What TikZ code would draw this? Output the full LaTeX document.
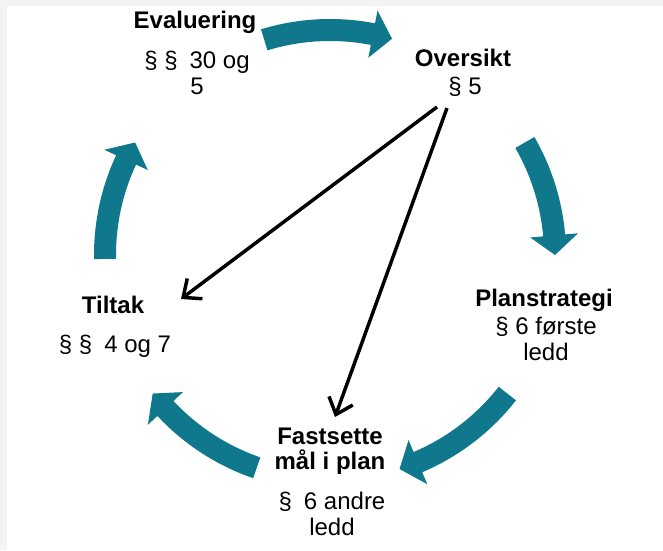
\documentclass[tikz,border=0pt]{standalone}
\usepackage{fontspec}
\setmainfont{Liberation Sans}
\usetikzlibrary{arrows.meta}
\usepackage{xcolor}
\definecolor{cycleteal}{RGB}{16,120,140}
\definecolor{framegray}{RGB}{243,243,243}

\begin{document}
\begin{tikzpicture}[
  x=0.75pt, y=-0.75pt,
  font=\fontsize{18}{19.5}\selectfont,
  steptitle/.style={font=\fontsize{18}{19}\selectfont\bfseries, align=center, inner sep=0pt},
  stepref/.style={align=center, inner sep=0pt},
  linkarrow/.style={-{Straight Barb[length=11pt, width=19pt]}, line width=2.6pt},
  cyclearrow/.style={fill=cycleteal}
]
% frame
\fill[framegray] (0,0) rectangle (663,550);
\fill[white] (7,6) rectangle (663,550);

% cycle arrows (tail angle / tip angle)
\foreach \a/\t in {253/286, 330/360, 38/72, 109/142, 179/210} {
  \pgfmathsetmacro\b{\t-5}
  \fill[cyclearrow] ([shift={(330,255)}]\a:236) arc[start angle=\a, end angle=\b, radius=236]
    -- ([shift={(330,255)}]\b:249) -- ([shift={(330,255)}]\t:225)
    -- ([shift={(330,255)}]\b:201) -- ([shift={(330,255)}]\b:214)
    arc[start angle=\b, end angle=\a, radius=214] -- cycle;
}

% steps
\node[steptitle] (eval) at (195,22) {Evaluering};
\node[stepref] (evalref) at (197,73) {§ §\enspace 30 og\\5};
\node[steptitle] (ovs) at (463,58) {Oversikt};
\node[stepref] (ovsref) at (465,87) {§ 5};
\node[steptitle] (plan) at (544,300) {Planstrategi};
\node[stepref] (planref) at (546,339) {§ 6 første\\ledd};
\node[steptitle] (fast) at (330,451) {Fastsette\\mål i plan};
\node[stepref] (fastref) at (332,514) {§\enspace 6 andre\\ledd};
\node[steptitle] (tiltak) at (113,305) {Tiltak};
\node[stepref] (tiltakref) at (115,346) {§ §\enspace 4 og 7};

% links from Oversikt
\draw[linkarrow] ([shift={(-28,20)}]ovsref.center) -- ([shift={(68,-6)}]tiltak.center);
\draw[linkarrow] ([shift={(-18,21)}]ovsref.center) -- ([shift={(5,-34)}]fast.center);
\end{tikzpicture}
\end{document}
